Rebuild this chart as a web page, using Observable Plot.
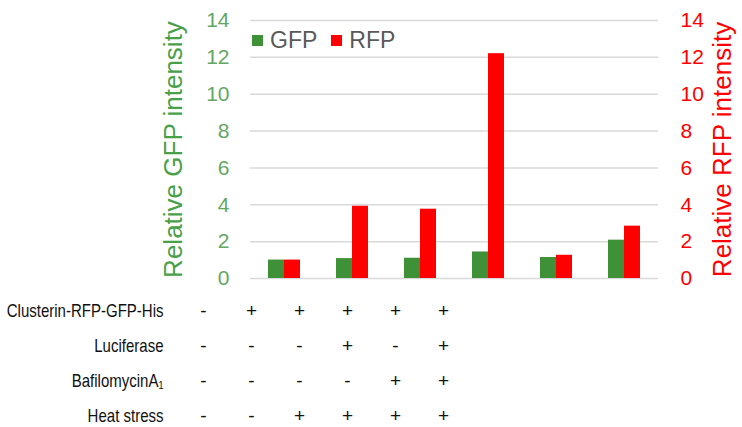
<!DOCTYPE html>
<html>
<head>
<meta charset="utf-8">
<script src="https://cdn.jsdelivr.net/npm/d3@7"></script>
<script src="https://cdn.jsdelivr.net/npm/@observablehq/plot@0.6"></script>
<style>
  body { margin: 0; background: #fff; font-family: Arial, "Liberation Sans", sans-serif; }
  #wrap { position: relative; width: 742px; height: 427px; }
  #legend { position: absolute; left: 252px; top: 27px; display: flex; gap: 14px; font-size: 23px; color: #595959; }
  #legend .item { display: flex; align-items: center; gap: 7px; }
  #legend .sw { width: 11px; height: 11px; display: inline-block; }
  svg { display: block; }
</style>
</head>
<body>
<div id="wrap"></div>
<script>
const groups = ["1", "2", "3", "4", "5", "6"];
const series = ["GFP", "RFP"];
const seriesColors = ["#3f9137", "#ff0000"];
const gfp = [1.0, 1.08, 1.10, 1.44, 1.14, 2.08];
const rfp = [1.0, 3.92, 3.76, 12.2, 1.26, 2.84];
const yTicks = [0, 2, 4, 6, 8, 10, 12, 14];

const rowLabels = ["Clusterin-RFP-GFP-His", "Luciferase", "BafilomycinA\u2081", "Heat stress"];
const clusterin = ["-", "+", "+", "+", "+", "+"];
const luciferase = ["-", "-", "-", "+", "-", "+"];
const bafilomycin = ["-", "-", "-", "-", "+", "+"];
const heat = ["-", "-", "+", "+", "+", "+"];

const font = 'Arial, "Liberation Sans", sans-serif';
const bars = groups.flatMap((g, i) => [
  {group: g, series: "GFP", value: gfp[i]},
  {group: g, series: "RFP", value: rfp[i]}
]);

const chart = Plot.plot({
  width: 742,
  height: 290,
  marginLeft: 248,
  marginRight: 82,
  marginTop: 20,
  marginBottom: 12,
  style: {fontFamily: font, background: "white"},
  fx: {domain: groups, padding: 0, axis: null},
  x: {domain: series, paddingInner: 0, paddingOuter: 1.08, axis: null},
  y: {domain: [0, 14], axis: null},
  color: {domain: series, range: seriesColors},
  marks: [
    Plot.gridY(yTicks, {stroke: "#d9d9d9", strokeOpacity: 1, strokeWidth: 1.5}),
    Plot.barY(bars, {fx: "group", x: "series", y: "value", fill: "series"}),
    Plot.axisY(yTicks, {anchor: "left", tickSize: 0, tickPadding: 21, fontSize: 21, color: "#62a862", label: null}),
    Plot.axisY(yTicks, {anchor: "left", tickSize: 0, tickFormat: () => "", fontSize: 26, color: "#48a048",
      label: "Relative GFP intensity", labelAnchor: "center", labelArrow: "none", labelOffset: 87}),
    Plot.axisY(yTicks, {anchor: "right", tickSize: 0, tickPadding: 22, fontSize: 21, color: "#ff0000", label: null}),
    Plot.axisY(yTicks, {anchor: "right", tickSize: 0, tickFormat: () => "", fontSize: 26, color: "#ff0000",
      label: "Relative RFP intensity", labelAnchor: "center", labelArrow: "none", labelOffset: 72})
  ]
});

const cols = groups;
const rowData = [clusterin, luciferase, bafilomycin, heat];
const cells = rowLabels.flatMap((r, j) => cols.map((c, i) => ({row: r, col: c, sign: rowData[j][i]})));

const table = Plot.plot({
  width: 742,
  height: 137,
  marginLeft: 202,
  marginRight: 299,
  marginTop: 19,
  marginBottom: 12,
  style: {fontFamily: font, background: "white"},
  x: {type: "point", domain: cols, padding: 0, axis: null},
  y: {type: "point", domain: rowLabels, padding: 0},
  marks: [
    Plot.axisY({anchor: "left", tickSize: 0, tickPadding: 39, fontSize: 19, color: "#111", label: null}),
    Plot.text(cells, {x: "col", y: "row", text: "sign", fontSize: 19, fill: "#111"})
  ]
});

const wrap = document.getElementById("wrap");
wrap.appendChild(chart);
wrap.appendChild(table);

// condense the row labels horizontally, as in the reference
d3.select(table).selectAll('[aria-label="y-axis tick label"] text').each(function () {
  const w = this.getComputedTextLength();
  this.setAttribute("textLength", (w * 0.79).toFixed(1));
  this.setAttribute("lengthAdjust", "spacingAndGlyphs");
});

const legend = document.createElement("div");
legend.id = "legend";
series.forEach((s, i) => {
  const item = document.createElement("span");
  item.className = "item";
  const sw = document.createElement("span");
  sw.className = "sw";
  sw.style.background = seriesColors[i];
  item.appendChild(sw);
  item.appendChild(document.createTextNode(s));
  legend.appendChild(item);
});
wrap.appendChild(legend);
</script>
</body>
</html>
